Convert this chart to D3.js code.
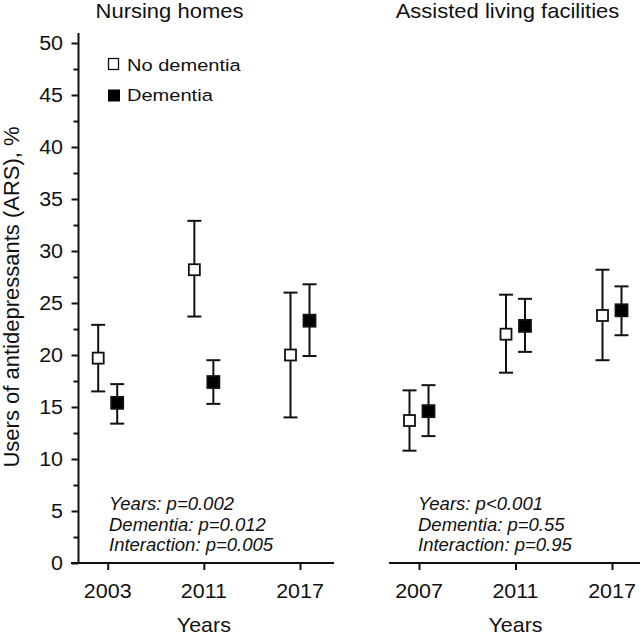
<!DOCTYPE html>
<html><head><meta charset="utf-8">
<script src="https://cdn.jsdelivr.net/npm/d3@7"></script>
<style>html,body{margin:0;padding:0;background:#fff;}svg{display:block;}</style>
</head><body>
<script>
// ---- data ----
const nhYears = ["2003", "2011", "2017"];
const nhNoDem   = [19.7, 28.2, 20.0];
const nhNoDemLo = [16.5, 23.7, 14.0];
const nhNoDemHi = [22.9, 32.9, 26.0];
const nhDem     = [15.4, 17.4, 23.3];
const nhDemLo   = [13.4, 15.3, 19.9];
const nhDemHi   = [17.2, 19.5, 26.8];

const alYears = ["2007", "2011", "2017"];
const alNoDem   = [13.7, 22.0, 23.8];
const alNoDemLo = [10.8, 18.3, 19.5];
const alNoDemHi = [16.6, 25.8, 28.2];
const alDem     = [14.6, 22.8, 24.3];
const alDemLo   = [12.2, 20.3, 21.9];
const alDemHi   = [17.1, 25.4, 26.6];

const panelTitles = ["Nursing homes", "Assisted living facilities"];
const nhStats = ["Years: p=0.002", "Dementia: p=0.012", "Interaction: p=0.005"];
const alStats = ["Years: p<0.001", "Dementia: p=0.55", "Interaction: p=0.95"];
const seriesNames = ["No dementia", "Dementia"];
const yTicks = [0, 5, 10, 15, 20, 25, 30, 35, 40, 45, 50];
const yMinorTicks = [2.5, 7.5, 12.5, 17.5, 22.5, 27.5, 32.5, 37.5, 42.5, 47.5];

// ---- layout ----
const W = 643, H = 636;
const FONT = "'Liberation Sans', Arial, Helvetica, sans-serif";
const svg = d3.select("body").append("svg").attr("width", W).attr("height", H);

const y = d3.scaleLinear().domain([0, 50]).range([563, 43]);
const xNH = d3.scalePoint().domain(nhYears).range([107.7, 300]);
const xAL = d3.scalePoint().domain(alYears).range([419, 612]);
const OFF = 9.5;

function txt(g, x, yy, s, size, sx, anchor, opts) {
  opts = opts || {};
  const t = g.append("text")
    .attr("transform", `translate(${x},${yy}) scale(${sx},1)`)
    .attr("text-anchor", anchor)
    .attr("font-family", FONT)
    .attr("font-size", size)
    .attr("fill", "#111")
    .text(s);
  if (opts.italic) t.attr("font-style", "italic");
  return t;
}

// ---- Y axis (left panel only) ----
const yAxisG = svg.append("g").attr("transform", "translate(78.5,0)");
yAxisG.call(d3.axisLeft(y).tickValues(yTicks).tickSize(7).tickFormat(""));
yAxisG.select(".domain").remove();
yAxisG.selectAll(".tick line").attr("stroke", "#111").attr("stroke-width", 2);
const yMinorG = svg.append("g").attr("transform", "translate(78.5,0)");
yMinorG.call(d3.axisLeft(y).tickValues(yMinorTicks).tickSize(5).tickFormat(""));
yMinorG.select(".domain").remove();
yMinorG.selectAll(".tick line").attr("stroke", "#111").attr("stroke-width", 2);
svg.append("line").attr("x1", 78.5).attr("x2", 78.5).attr("y1", 33).attr("y2", y(0) + 1)
  .attr("stroke", "#111").attr("stroke-width", 2);
yTicks.forEach(v => txt(svg, 63, y(v) + 7, String(v), 19.5, 1.1, "end"));

// y label
svg.append("text")
  .attr("transform", `translate(19,297) rotate(-90)`)
  .attr("text-anchor", "middle")
  .attr("font-family", FONT).attr("font-size", 22).attr("fill", "#111")
  .text("Users of antidepressants (ARS), %");

// ---- panels ----
function panel(x, years, nd, ndLo, ndHi, dm, dmLo, dmHi, axisX0, axisX1, title, titleX, stats, statsX) {
  const g = svg.append("g");
  const xa = g.append("g").attr("transform", `translate(0,${y(0)})`)
    .call(d3.axisBottom(x).tickSize(7).tickSizeOuter(0).tickFormat(""));
  xa.select(".domain").remove();
  xa.selectAll(".tick line").attr("stroke", "#111").attr("stroke-width", 2);
  g.append("line").attr("x1", axisX0).attr("x2", axisX1).attr("y1", y(0)).attr("y2", y(0))
    .attr("stroke", "#111").attr("stroke-width", 2);
  years.forEach(yr => txt(g, x(yr), 598, yr, 19.5, 1.1, "middle"));
  txt(g, x(years[1]), 632, "Years", 21, 1.02, "middle");

  txt(g, titleX, 17.5, title, 20, 1.1, "middle");

  stats.forEach((s, i) => txt(g, statsX, 510 + i * 20.6, s, 18.5, 1.0, "start", {italic: true}));

  const series = [
    {v: nd, lo: ndLo, hi: ndHi, off: -OFF, fill: "#fff", size: 11},
    {v: dm, lo: dmLo, hi: dmHi, off: OFF, fill: "#000", size: 12}
  ];
  series.forEach(s => {
    const data = years.map((yr, i) => ({yr, v: s.v[i], lo: s.lo[i], hi: s.hi[i]}));
    const eb = g.append("g");
    eb.selectAll("line.v").data(data).join("line").attr("class", "v")
      .attr("x1", d => x(d.yr) + s.off).attr("x2", d => x(d.yr) + s.off)
      .attr("y1", d => y(d.lo)).attr("y2", d => y(d.hi))
      .attr("stroke", "#111").attr("stroke-width", 2);
    eb.selectAll("line.hi").data(data).join("line").attr("class", "hi")
      .attr("x1", d => x(d.yr) + s.off - 7).attr("x2", d => x(d.yr) + s.off + 7)
      .attr("y1", d => y(d.hi)).attr("y2", d => y(d.hi))
      .attr("stroke", "#111").attr("stroke-width", 2);
    eb.selectAll("line.lo").data(data).join("line").attr("class", "lo")
      .attr("x1", d => x(d.yr) + s.off - 7).attr("x2", d => x(d.yr) + s.off + 7)
      .attr("y1", d => y(d.lo)).attr("y2", d => y(d.lo))
      .attr("stroke", "#111").attr("stroke-width", 2);
    g.selectAll(null).data(data).join("rect")
      .attr("x", d => x(d.yr) + s.off - s.size / 2)
      .attr("y", d => y(d.v) - s.size / 2)
      .attr("width", s.size).attr("height", s.size)
      .attr("fill", s.fill).attr("stroke", "#111").attr("stroke-width", 1.8);
  });
}

panel(xNH, nhYears, nhNoDem, nhNoDemLo, nhNoDemHi, nhDem, nhDemLo, nhDemHi, 71, 334, panelTitles[0], 169.5, nhStats, 109);
panel(xAL, alYears, alNoDem, alNoDemLo, alNoDemHi, alDem, alDemLo, alDemHi, 389, 640, panelTitles[1], 507.5, alStats, 418);

// ---- legend ----
const lg = svg.append("g");
lg.append("rect").attr("x", 108.5).attr("y", 58.5).attr("width", 10).attr("height", 11)
  .attr("fill", "#fff").attr("stroke", "#111").attr("stroke-width", 1.3);
txt(lg, 127, 70.5, seriesNames[0], 17, 1.18, "start");
lg.append("rect").attr("x", 108).attr("y", 89.5).attr("width", 12).attr("height", 12)
  .attr("fill", "#000");
txt(lg, 127, 101, seriesNames[1], 17, 1.18, "start");
</script>
</body></html>
